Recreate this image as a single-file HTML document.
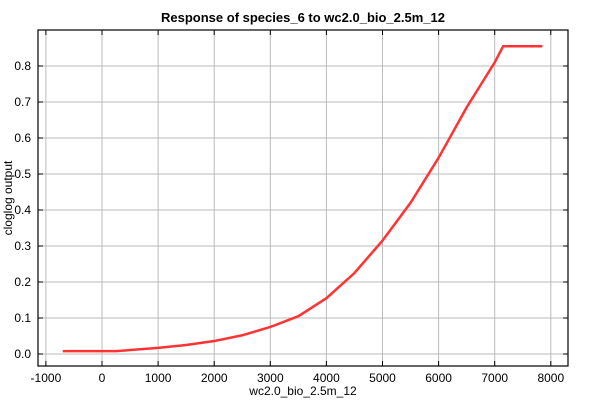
<!DOCTYPE html>
<html><head><meta charset="utf-8"><style>
body{margin:0;background:#fff;font-family:"Liberation Sans",sans-serif}
svg text{font-family:"Liberation Sans",sans-serif;font-size:12px;fill:#000}
</style></head><body>
<svg id="chart" width="600" height="400">
<text x="303" y="22" text-anchor="middle" font-weight="bold" style="font-size:13px">Response of species_6 to wc2.0_bio_2.5m_12</text>
<text x="303" y="395" text-anchor="middle">wc2.0_bio_2.5m_12</text>
<text transform="translate(12,198) rotate(-90)" text-anchor="middle">cloglog output</text>
<g id="grid"></g><g id="ticks"></g>
<rect x="38" y="30" width="530" height="336" fill="none" stroke="#000" stroke-width="1.2"/>
<path id="line" fill="none" stroke="#ff3333" stroke-width="2.5"/>
</svg>
<script>
const xValues=[-700,250,1000,1500,2000,2500,3000,3500,4000,4500,5000,5500,6000,6500,7000,7150,7850];
const yValues=[0.008,0.008,0.017,0.025,0.036,0.052,0.075,0.105,0.155,0.225,0.315,0.42,0.545,0.685,0.81,0.855,0.855];
const xTicks=[-1000,0,1000,2000,3000,4000,5000,6000,7000,8000];
const yTicks=[0,0.1,0.2,0.3,0.4,0.5,0.6,0.7,0.8];
const X=v=>102+v*0.0561, Y=v=>354-v*360;
const ns="http://www.w3.org/2000/svg";
const grid=document.getElementById('grid'), ticks=document.getElementById('ticks');
function mk(p,tag,attrs){const e=document.createElementNS(ns,tag);for(const k in attrs)e.setAttribute(k,attrs[k]);p.appendChild(e);return e;}
xTicks.forEach(t=>{const x=X(t);
 const g=mk(grid,'line',{x1:x,x2:x,y1:30,y2:366,stroke:'#bbb','stroke-width':1});
 
 
 mk(ticks,'line',{x1:x,x2:x,y1:366,y2:361,stroke:'#000'});
 mk(ticks,'line',{x1:x,x2:x,y1:30,y2:35,stroke:'#000'});
 const l=mk(ticks,'text',{x:x,y:382,'text-anchor':'middle'});l.textContent=t;
 
 
});
yTicks.forEach(t=>{const y=Y(t);
 const g=mk(grid,'line',{x1:38,x2:568,y1:y,y2:y,stroke:'#bbb','stroke-width':1});
 
 
 mk(ticks,'line',{x1:38,x2:43,y1:y,y2:y,stroke:'#000'});
 mk(ticks,'line',{x1:563,x2:568,y1:y,y2:y,stroke:'#000'});
 const l=mk(ticks,'text',{x:31,y:y+4,'text-anchor':'end'});l.textContent=t.toFixed(1);
 
 
});
document.getElementById('line').setAttribute('d',xValues.map((v,i)=>(i?'L':'M')+X(v)+','+Y(yValues[i])).join(' '));
</script>
</body></html>
